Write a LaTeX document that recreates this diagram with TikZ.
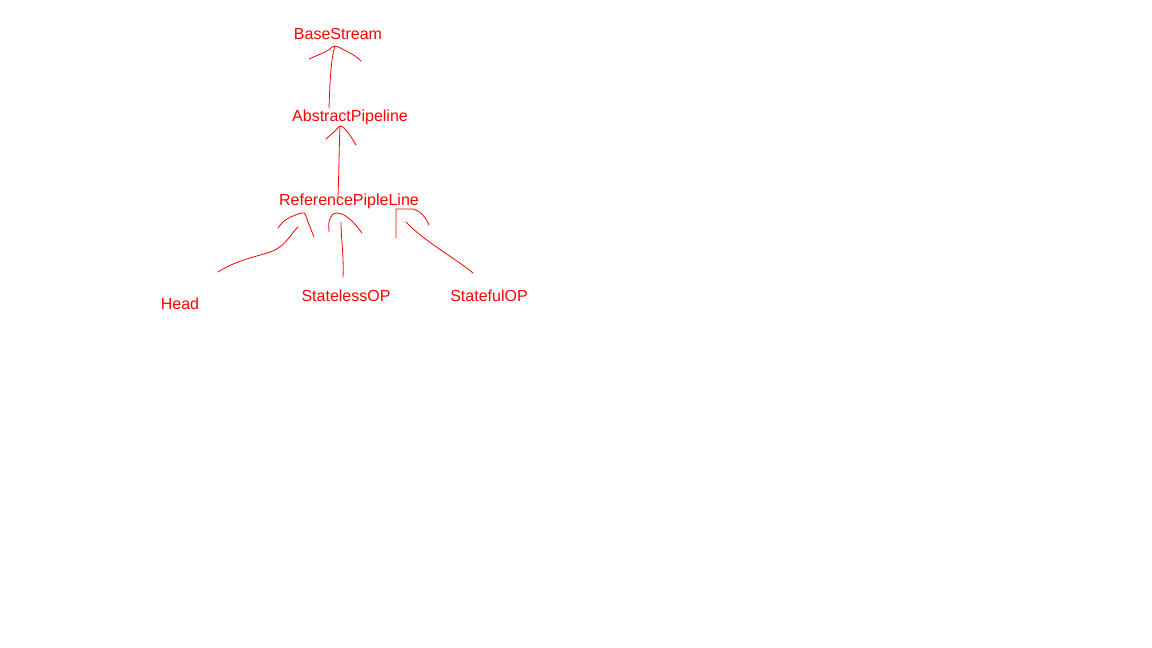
\documentclass[tikz,border=0pt]{standalone}
\usepackage{fontspec}
\setmainfont{Liberation Sans}
\tikzset{
  label text/.style={text=red, inner sep=0pt, anchor=base, font=\fontsize{16}{19}\selectfont},
  sketch/.style={draw=red, line width=0.8pt, line cap=round, line join=round}
}
\begin{document}
\begin{tikzpicture}[x=1pt, y=-1pt]
        \useasboundingbox (0,0) rectangle (1152,648);
        \node[label text] (base) at (338,39) {BaseStream};
        \node[label text] (abstract) at (350,121) {AbstractPipeline};
        \node[label text] (refpipe) at (349,205) {ReferencePipleLine};
        \foreach \name/\x/\y/\txt in {head/180/309/Head, stateless/346/301/StatelessOP,
                                     stateful/489/301/StatefulOP} {
          \node[label text] (\name) at (\x,\y) {\txt};
        }
        % tips and tails of the hand drawn strokes
        \coordinate (base tip) at (335,46);
        \coordinate (abstract tail) at (329,108);
        \coordinate (abstract tip) at (340,126);
        \coordinate (refpipe tail) at (338,197);
        \coordinate (head tip) at (298,227);
        \coordinate (head tail) at (218,272);
        \coordinate (stateless tip) at (341,222);
        \coordinate (stateless tail) at (343,277);
        \coordinate (stateful tip) at (406,222);
        \coordinate (stateful tail) at (473,273);
        % shafts
        \draw[sketch] (abstract tail) .. controls (330,80) and (331,58) .. (base tip);
        \draw[sketch] (refpipe tail) .. controls (339,170) and (339,150) .. (abstract tip);
        \draw[sketch] (head tail) .. controls (240,258) and (262,256) .. (275,250)
                      .. controls (288,243) and (291,233) .. (head tip);
        \draw[sketch] (stateless tail) .. controls (344,255) and (341,240) .. (stateless tip);
        \draw[sketch] (stateful tail) .. controls (455,258) and (425,242) .. (stateful tip);
        % heads
        \draw[sketch] plot[smooth] coordinates {(309,59) (318,55) (327,51) (335,46) (346,51) (355,56) (361,61)};
        \draw[sketch] plot[smooth] coordinates {(326,139) (334,132) (341,126) (349,134) (356,145)};
        \draw[sketch] plot[smooth] coordinates {(278,228) (284,221) (293,216) (304,213) (308,222) (314,237)};
        \draw[sketch] plot[smooth] coordinates {(329,232) (329,222) (332,215) (337,213) (344,215) (353,222) (362,233)};
        \draw[sketch] (396,238) -- (396,209) -- (413,209) .. controls (421,211) and (426,218) .. (429,225);
      \end{tikzpicture}
\end{document}
